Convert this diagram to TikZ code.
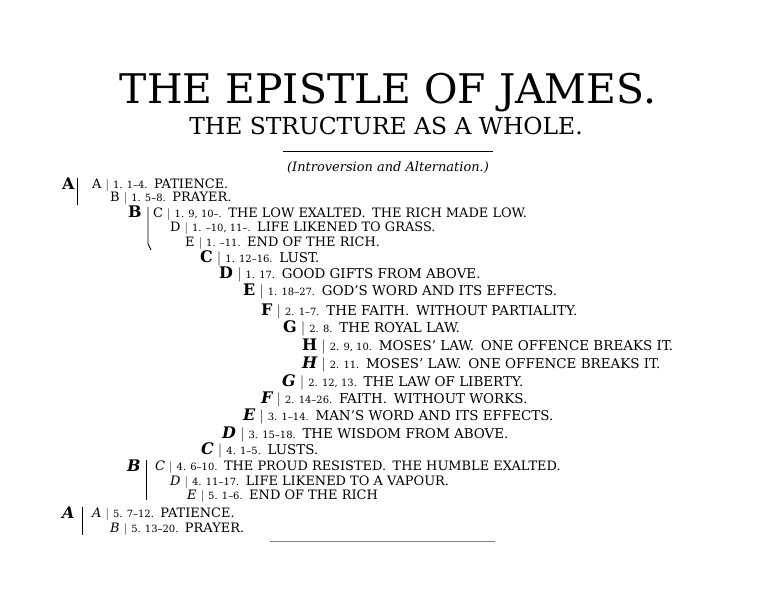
\documentclass[tikz,border=0pt]{standalone}
\usepackage{fontspec}
\setmainfont{DejaVu Serif}
\usepackage{tikz}
\newcommand{\rf}[1]{{\fontsize{10}{11}\selectfont #1}}
\newcommand{\bk}[1]{{\fontsize{16}{16}\selectfont\bfseries #1}}
\newcommand{\ik}[1]{{\fontsize{16}{16}\selectfont\bfseries\itshape #1}}
\tikzset{
  row/.style={anchor=base west, inner sep=0pt, font=\fontsize{13.5}{14}\selectfont},
  subrow/.style={anchor=base west, inner sep=0pt, font=\fontsize{13}{14}\selectfont},
  grp/.style={line width=0.9pt}
}

\begin{document}
\begin{tikzpicture}[x=1bp,y=-1bp]
				\useasboundingbox (0,0) rectangle (778,594);
				% Heading
				\node[anchor=base, inner sep=0pt, font=\fontsize{41}{44}\selectfont] (title) at (388,104) {THE EPISTLE OF JAMES.};
				\node[anchor=base, inner sep=0pt, font=\fontsize{23.5}{26}\selectfont] (sub) at (386,135) {THE STRUCTURE AS A WHOLE.};
				\draw[line width=0.6pt] (283,151) -- (493,151);
				\node[anchor=base, inner sep=0pt, font=\fontsize{13}{14}\selectfont\itshape] (intro) at (388,172) {(Introversion and Alternation.)};
				
				% Outer members
				\node[row] (A1) at (62,190) {\bk{A}};
				\node[subrow] (a1) at (92,189) {A $|$ \rf{1. 1--4.}\enspace PATIENCE.};
				\node[subrow] (b1) at (110,202) {B $|$ \rf{1. 5--8.}\enspace PRAYER.};
				\draw[grp] (77,178) -- (77,205);
				
				\node[row] (B1) at (128,218) {\bk{B}};
				\node[subrow] (c1) at (153,218) {C $|$ \rf{1. 9, 10--.}\enspace THE LOW EXALTED.\enspace THE RICH MADE LOW.};
				\node[subrow] (d1) at (170,232) {D $|$ \rf{1. --10, 11--.}\enspace LIFE LIKENED TO GRASS.};
				\node[subrow] (e1) at (185,246) {E $|$ \rf{1. --11.}\enspace END OF THE RICH.};
				\draw[grp] (148,207) -- (148,244) -- (151,250);
				
				% Inner introversion
				\node[row] (C1) at (200,262) {\bk{C} $|$ \rf{1. 12--16.}\enspace LUST.};
				\node[row] (D1) at (219,278) {\bk{D} $|$ \rf{1. 17.}\enspace GOOD GIFTS FROM ABOVE.};
				\node[row] (E1) at (243,295) {\bk{E} $|$ \rf{1. 18--27.}\enspace GOD'S WORD AND ITS EFFECTS.};
				\node[row] (F1) at (261,315) {\bk{F} $|$ \rf{2. 1--7.}\enspace THE FAITH.\enspace WITHOUT PARTIALITY.};
				\node[row] (G1) at (283,332) {\bk{G} $|$ \rf{2. 8.}\enspace THE ROYAL LAW.};
				\node[row] (H1) at (302,350) {\bk{H} $|$ \rf{2. 9, 10.}\enspace MOSES' LAW.\enspace ONE OFFENCE BREAKS IT.};
				\node[row] (H2) at (302,368) {\ik{H} $|$ \rf{2. 11.}\enspace MOSES' LAW.\enspace ONE OFFENCE BREAKS IT.};
				\node[row] (G2) at (282,386) {\ik{G} $|$ \rf{2. 12, 13.}\enspace THE LAW OF LIBERTY.};
				\node[row] (F2) at (261,403) {\ik{F} $|$ \rf{2. 14--26.}\enspace FAITH.\enspace WITHOUT WORKS.};
				\node[row] (E2) at (243,420) {\ik{E} $|$ \rf{3. 1--14.}\enspace MAN'S WORD AND ITS EFFECTS.};
				\node[row] (D2) at (222,438) {\ik{D} $|$ \rf{3. 15--18.}\enspace THE WISDOM FROM ABOVE.};
				\node[row] (C2) at (201,454) {\ik{C} $|$ \rf{4. 1--5.}\enspace LUSTS.};
				
				% Closing members
				\node[row] (B2) at (127,471) {\ik{B}};
				\node[subrow] (c2) at (155,470) {\textit{C} $|$ \rf{4. 6--10.}\enspace THE PROUD RESISTED.\enspace THE HUMBLE EXALTED.};
				\node[subrow] (d2) at (170,485) {\textit{D} $|$ \rf{4. 11--17.}\enspace LIFE LIKENED TO A VAPOUR.};
				\node[subrow] (e2) at (187,499) {\textit{E} $|$ \rf{5. 1--6.}\enspace END OF THE RICH};
				\draw[grp] (146,460) -- (146,500);
				
				\node[row] (A2) at (62,518) {\ik{A}};
				\node[subrow] (a2) at (92,517) {\textit{A} $|$ \rf{5. 7--12.}\enspace PATIENCE.};
				\node[subrow] (b2) at (110,532) {\textit{B} $|$ \rf{5. 13--20.}\enspace PRAYER.};
				\draw[grp] (82,507) -- (82,535);
				
				\draw[line width=0.5pt, gray] (270,541) -- (495,541);
\end{tikzpicture}
\end{document}
